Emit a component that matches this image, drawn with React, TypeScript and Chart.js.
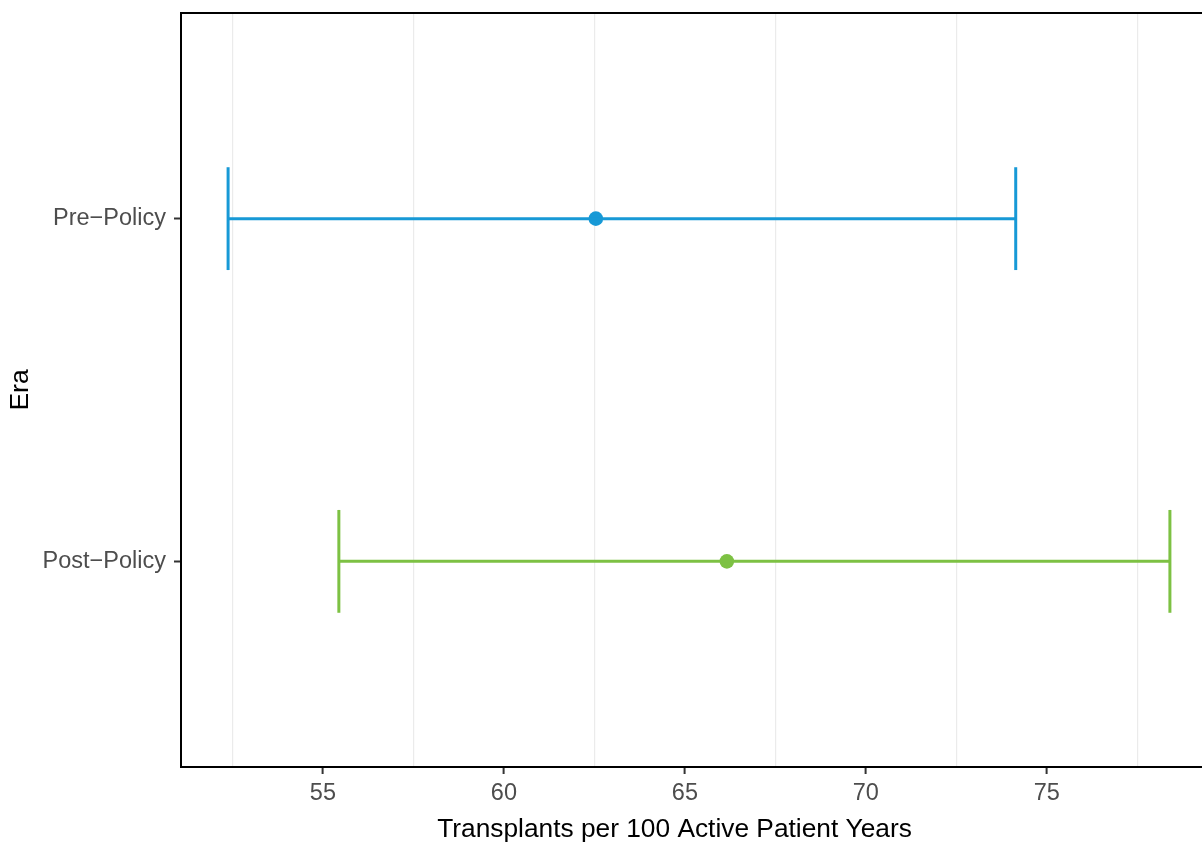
import React, { useEffect, useRef } from 'react';
import { Chart, registerables } from 'chart.js';

Chart.register(...registerables);

const categories = ['Pre\u2212Policy', 'Post\u2212Policy'];
const estimates = [62.54, 66.16];
const lowerBounds = [52.38, 55.44];
const upperBounds = [74.14, 78.4];
const seriesColors = ['#1799D6', '#7DC143'];
const xMajorTicks = [55, 60, 65, 70, 75];
const xMinorTicks = [52.5, 57.5, 62.5, 67.5, 72.5, 77.5];
const xAxisTitle = 'Transplants per 100 Active Patient Years';
const yAxisTitle = 'Era';

const FONT = '"Liberation Sans", Arial, Helvetica, sans-serif';
const CAP_HALF = 0.15;

export default function App() {
  const canvasRef = useRef<HTMLCanvasElement | null>(null);

  useEffect(() => {
    const canvas = canvasRef.current;
    if (!canvas) return;

    const dataMin = Math.min(...lowerBounds);
    const dataMax = Math.max(...upperBounds);
    const pad = (dataMax - dataMin) * 0.05;
    const n = categories.length;
    const yOf = (i: number) => n - i;

    const datasets: any[] = [];
    categories.forEach((cat, i) => {
      const y = yOf(i);
      const color = seriesColors[i];
      const common = {
        showLine: true,
        borderColor: color,
        borderWidth: 3,
        pointRadius: 0,
        pointHoverRadius: 0,
        borderCapStyle: 'butt',
        fill: false,
      };
      datasets.push({ ...common, label: cat + ' interval', data: [{ x: lowerBounds[i], y }, { x: upperBounds[i], y }] });
      datasets.push({ ...common, label: cat + ' low', data: [{ x: lowerBounds[i], y: y - CAP_HALF }, { x: lowerBounds[i], y: y + CAP_HALF }] });
      datasets.push({ ...common, label: cat + ' high', data: [{ x: upperBounds[i], y: y - CAP_HALF }, { x: upperBounds[i], y: y + CAP_HALF }] });
    });
    categories.forEach((cat, i) => {
      datasets.push({
        label: cat,
        showLine: false,
        data: [{ x: estimates[i], y: yOf(i) }],
        pointRadius: 7.3,
        pointHoverRadius: 7.3,
        pointBorderWidth: 0,
        backgroundColor: seriesColors[i],
        borderColor: seriesColors[i],
      });
    });

    const framePlugin = {
      id: 'frame',
      afterDraw(chart: any) {
        const { ctx, chartArea: a } = chart;
        ctx.save();
        ctx.strokeStyle = '#000000';
        ctx.lineWidth = 2;
        ctx.strokeRect(a.left, a.top, a.right - a.left, a.bottom - a.top);
        ctx.fillStyle = '#000000';
        ctx.font = '26.3px ' + FONT;
        ctx.textAlign = 'center';
        ctx.textBaseline = 'alphabetic';
        ctx.fillText(xAxisTitle, 674.5, 837);
        ctx.restore();
      },
    };

    const isMajor = (v: number) => xMajorTicks.some((t) => Math.abs(t - v) < 1e-9);
    const transparent = 'rgba(0,0,0,0)';

    const chart = new Chart(canvas, {
      type: 'scatter',
      data: { datasets },
      plugins: [framePlugin],
      options: {
        animation: false,
        responsive: false,
        maintainAspectRatio: false,
        layout: { padding: { left: 0, right: 8, top: 13, bottom: 0 } },
        plugins: {
          legend: { display: false },
          tooltip: { enabled: false },
        },
        scales: {
          x: {
            type: 'linear',
            position: 'bottom',
            min: dataMin - pad,
            max: dataMax + pad,
            afterBuildTicks: (axis: any) => {
              axis.ticks = [...xMinorTicks, ...xMajorTicks].sort((a, b) => a - b).map((v) => ({ value: v }));
            },
            afterFit: (axis: any) => {
              axis.height = 77;
              axis.paddingLeft = 0;
              axis.paddingRight = 0;
            },
            border: { display: false },
            grid: {
              drawOnChartArea: true,
              drawTicks: true,
              tickLength: 7,
              tickWidth: 2,
              lineWidth: 1.2,
              color: (ctx: any) => (ctx.tick && !isMajor(ctx.tick.value) ? '#EBEBEB' : transparent),
              tickColor: (ctx: any) => (ctx.tick && isMajor(ctx.tick.value) ? '#333333' : transparent),
            },
            ticks: {
              autoSkip: false,
              maxRotation: 0,
              padding: 5,
              color: '#4D4D4D',
              font: { family: FONT, size: 23.5 },
              callback: (value: any) => (isMajor(Number(value)) ? String(value) : ''),
            },
            title: { display: false, text: xAxisTitle },
          },
          y: {
            type: 'linear',
            position: 'left',
            min: 0.4,
            max: n + 0.6,
            afterBuildTicks: (axis: any) => {
              axis.ticks = categories.map((_, i) => ({ value: yOf(i) }));
            },
            afterFit: (axis: any) => {
              axis.width = 181;
              axis.paddingTop = 0;
              axis.paddingBottom = 0;
            },
            border: { display: false },
            grid: {
              drawOnChartArea: false,
              drawTicks: true,
              tickLength: 7,
              tickWidth: 2,
              tickColor: '#333333',
            },
            ticks: {
              autoSkip: false,
              padding: 8,
              color: '#4D4D4D',
              font: { family: FONT, size: 23.5 },
              callback: (value: any) => {
                const idx = n - Number(value);
                return categories[idx] ?? '';
              },
            },
            title: {
              display: true,
              text: yAxisTitle,
              color: '#000000',
              font: { family: FONT, size: 26.5 },
              padding: { top: 5, bottom: 0 },
            },
          },
        },
      } as any,
    });

    return () => {
      chart.destroy();
    };
  }, []);

  return (
    <div
      style={{
        position: 'fixed',
        left: 0,
        top: 0,
        width: 1202,
        height: 844,
        overflow: 'hidden',
        background: '#ffffff',
      }}
    >
      <canvas ref={canvasRef} width={1225} height={844} style={{ display: 'block' }} />
    </div>
  );
}
